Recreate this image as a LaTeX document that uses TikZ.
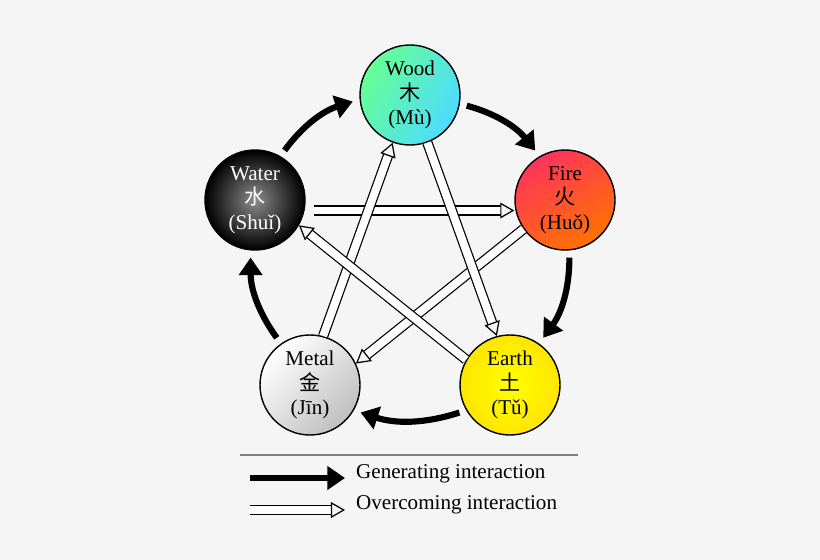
\documentclass[tikz,border=0pt]{standalone}
\usepackage{fontspec}
\setmainfont{Liberation Serif}
\newfontfamily\cjk{Noto Sans CJK SC}
\usetikzlibrary{arrows.meta}

\begin{document}
\begin{tikzpicture}[x=0.02cm,y=-0.02cm]
\tikzset{element/.style={circle,draw=black,thick,minimum size=100*0.02cm,align=center,font=\large,inner sep=0pt}}
\tikzset{gen/.style={line width=3.5pt,-{Triangle[length=10pt,width=13pt]},shorten <=4pt,shorten >=4pt}}
\tikzset{over/.style={double=white,double distance=4.5pt,line width=0.7pt,-{Triangle[open,length=8pt,width=9pt]}}}
\fill[white!96!black] (0,0) rectangle (820,560);
\node[element,top color=cyan!60!white,bottom color=cyan!70!blue!60,left color=green!70!cyan!60,right color=cyan!80!blue!70,shading angle=60] (wood) at (410,95) {Wood\\{\cjk 木}\\(Mù)};
\node[element,left color=red!80!magenta!80,right color=orange!90!red,shading angle=30] (fire) at (565,200) {Fire\\{\cjk 火}\\(Huǒ)};
\node[element,inner color=yellow,outer color=yellow!80!orange] (earth) at (510,385) {Earth\\{\cjk 土}\\(Tǔ)};
\node[element,left color=white,right color=gray!50,shading angle=45] (metal) at (310,385) {Metal\\{\cjk 金}\\(Jīn)};
\node[element,inner color=gray!90,outer color=black,text=white] (water) at (255,200) {Water\\{\cjk 水}\\(Shuǐ)};
% generating
\draw[gen] (wood.-10) to[bend left=18] (fire.120);
\draw[gen] (fire.-85) to[bend left=18] (earth.55);
\draw[gen] (earth.-150) to[bend left=18] (metal.-30);
\draw[gen] (metal.125) to[bend left=18] (water.-95);
\draw[gen] (water.60) to[bend left=18] (wood.185);
% overcoming
\draw[over] ([xshift=5pt,yshift=-6pt]water.east) -- ([yshift=-6pt]fire.west);
\draw[over] (fire.-145) -- (metal.25);
\draw[over] (metal.75) -- (wood.-110);
\draw[over] (wood.-70) -- (earth.105);
\draw[over] (earth.150) -- (water.-30);
% legend
\draw[gray,thick] (240,455) -- (578,455);
\coordinate (g1) at (250,478); \coordinate (g2) at (345,478);
\coordinate (o1) at (250,510); \coordinate (o2) at (345,510);
\draw[gen,shorten <=0pt,shorten >=0pt] (g1) -- (g2);
\draw[over] (o1) -- (o2);
\node[anchor=west,font=\large] (lg) at (350,474) {Generating interaction};
\node[anchor=west,font=\large] (lo) at (350,505) {Overcoming interaction};
\end{tikzpicture}
\end{document}
